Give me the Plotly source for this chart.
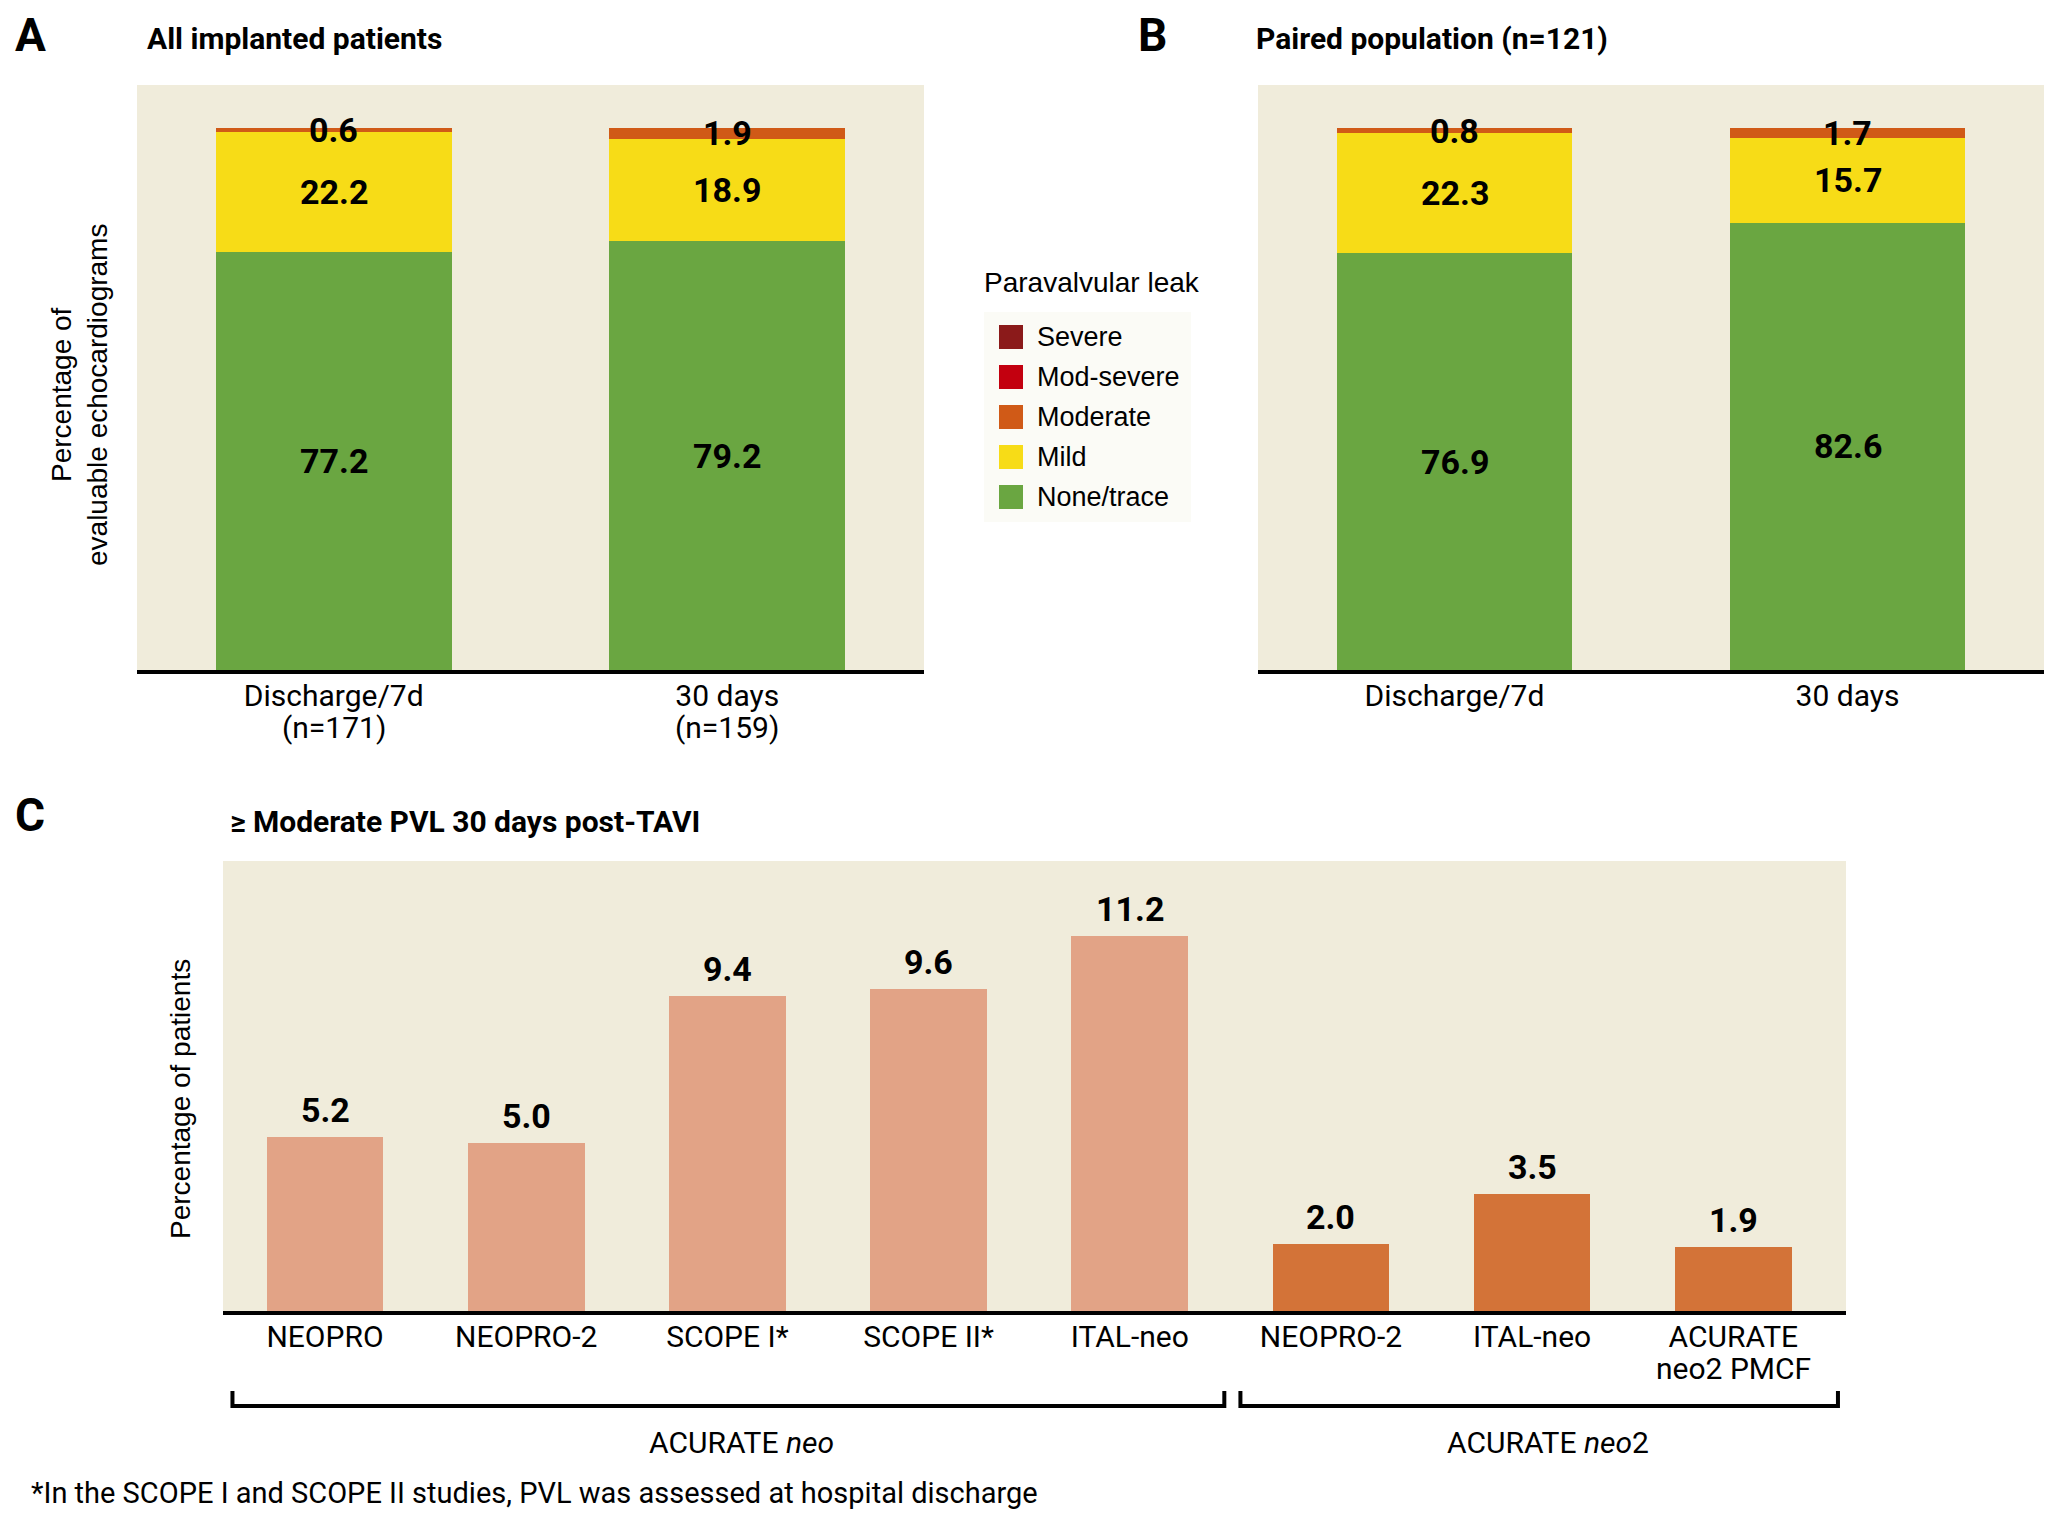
import plotly.graph_objects as go

W, H = 2067, 1519
OFF = 8  # page body margin of the html page

# ---------------- data ----------------
ab_x = [0, 1]
ticks_a = ["Discharge/7d", "30 days"]
ticks_a_n = ["(n=171)", "(n=159)"]
ticks_b = ["Discharge/7d", "30 days"]

grades = ["None/trace", "Mild", "Moderate", "Mod-severe", "Severe"]
grade_colors = ["#6aa641", "#f7dc17", "#d05a17", "#c3000f", "#8b1a1a"]

a_none = [77.2, 79.2]
a_mild = [22.2, 18.9]
a_moderate = [0.6, 1.9]
a_modsevere = [0.0, 0.0]
a_severe = [0.0, 0.0]

b_none = [76.9, 82.6]
b_mild = [22.3, 15.7]
b_moderate = [0.8, 1.7]
b_modsevere = [0.0, 0.0]
b_severe = [0.0, 0.0]

c_studies = ["NEOPRO", "NEOPRO-2", "SCOPE I*", "SCOPE II*", "ITAL-neo",
             "NEOPRO-2", "ITAL-neo", "ACURATE"]
c_studies_line2 = ["", "", "", "", "", "", "", "neo2 PMCF"]
c_values = [5.2, 5.0, 9.4, 9.6, 11.2, 2.0, 3.5, 1.9]
c_device = ["neo", "neo", "neo", "neo", "neo", "neo2", "neo2", "neo2"]
device_colors = {"neo": "#e2a386", "neo2": "#d37338"}
c_x = list(range(len(c_studies)))

# ---------------- styles ----------------
COND = "Roboto, Liberation Sans, sans-serif"
REG = "Liberation Sans, Arial, Helvetica, sans-serif"
BG = "#f0ecdb"


def px(x):
    return (x - OFF) / W


def py(y):
    return 1 - (y - OFF) / H


def ann(x, y, text, font, xanchor="center", yanchor="middle", **kw):
    d = dict(x=x, y=y, text=text, showarrow=False, font=font,
             xanchor=xanchor, yanchor=yanchor)
    d.update(kw)
    return d


fig = go.Figure()

a_series = [a_none, a_mild, a_moderate, a_modsevere, a_severe]
b_series = [b_none, b_mild, b_moderate, b_modsevere, b_severe]

for name, col, vals in zip(grades, grade_colors, a_series):
    fig.add_trace(go.Bar(x=ab_x, y=vals, name=name, marker_color=col,
                         marker_line_width=0, width=0.6,
                         xaxis="x", yaxis="y", showlegend=False,
                         hoverinfo="y+name"))
for name, col, vals in zip(grades, grade_colors, b_series):
    fig.add_trace(go.Bar(x=ab_x, y=vals, name=name, marker_color=col,
                         marker_line_width=0, width=0.6,
                         xaxis="x2", yaxis="y2", showlegend=False,
                         hoverinfo="y+name"))

fig.add_trace(go.Bar(x=c_x, y=c_values, width=0.58,
                     marker_color=[device_colors[d] for d in c_device],
                     marker_line_width=0, xaxis="x3", yaxis="y3",
                     showlegend=False, hoverinfo="y"))

numfont = dict(family=COND, size=34, color="black", weight="bold")
annotations = []

# segment labels A / B
for xa, ya, series in (("x", "y", a_series), ("x2", "y2", b_series)):
    for i in range(len(ab_x)):
        base = 0.0
        for vals in series[:3]:
            v = vals[i]
            annotations.append(ann(ab_x[i], base + v / 2, f"{v:.1f}", numfont,
                                   xref=xa, yref=ya))
            base += v

# value labels C
for xi, v in zip(c_x, c_values):
    annotations.append(ann(xi, v, f"{v:.1f}", numfont, yanchor="bottom",
                           xref="x3", yref="y3", yshift=5))

# second lines of tick labels
tickfont = dict(family=COND, size=30, color="black")
for xi, t in zip(ab_x, ticks_a_n):
    annotations.append(ann(xi, py(728), t, tickfont, xref="x", yref="paper"))
for xi, t in zip(c_x, c_studies_line2):
    if t:
        annotations.append(ann(xi, py(1368), t, tickfont, xref="x3",
                               yref="paper"))

# panel letters and titles
for letter, x, y in (("A", 30, 35), ("B", 1152, 35), ("C", 30, 815)):
    annotations.append(ann(px(x), py(y), letter,
                           dict(family=COND, size=46, color="black",
                                weight="bold"),
                           xref="paper", yref="paper"))
for title, x, y in (("All implanted patients", 145, 38),
                    ("Paired population (n=121)", 1254, 38),
                    ("≥ Moderate PVL 30 days post-TAVI", 228, 821)):
    annotations.append(ann(px(x), py(y), title,
                           dict(family=COND, size=30, color="black",
                                weight="bold"),
                           xanchor="left", xref="paper", yref="paper"))

# y axis titles
annotations.append(ann(px(79), py(395),
                       "Percentage of<br>evaluable echocardiograms",
                       dict(family=REG, size=28, color="black"),
                       textangle=-90, xref="paper", yref="paper"))
annotations.append(ann(px(180), py(1099), "Percentage of patients",
                       dict(family=REG, size=28, color="black"),
                       textangle=-90, xref="paper", yref="paper"))

# legend (manual)
shapes = []
shapes.append(dict(type="rect", xref="paper", yref="paper",
                   x0=px(984), x1=px(1191), y0=py(522), y1=py(312),
                   fillcolor="#fbfbf6", line_width=0, layer="below"))
annotations.append(ann(px(982), py(282), "Paravalvular leak",
                       dict(family=REG, size=28, color="black"),
                       xanchor="left", xref="paper", yref="paper"))
legend_order = ["Severe", "Mod-severe", "Moderate", "Mild", "None/trace"]
for k, name in enumerate(legend_order):
    yc = 337 + k * 40
    col = grade_colors[grades.index(name)]
    shapes.append(dict(type="rect", xref="paper", yref="paper",
                       x0=px(999), x1=px(1023), y0=py(yc + 12), y1=py(yc - 12),
                       fillcolor=col, line_width=0))
    annotations.append(ann(px(1035), py(yc), name,
                           dict(family=REG, size=27, color="black"),
                           xanchor="left", xref="paper", yref="paper"))

# brackets for panel C
brackets = [(-0.46, 4.47, "ACURATE <i>neo</i>", 2.07),
            (4.55, 7.52, "ACURATE <i>neo</i>2", 6.08)]
yb, yt = py(1406), py(1391)
for x0, x1, label, xl in brackets:
    shapes.append(dict(type="path", xref="x3", yref="paper",
                       path=f"M {x0},{yt} L {x0},{yb} L {x1},{yb} L {x1},{yt}",
                       line=dict(color="black", width=4)))
    annotations.append(ann(xl, py(1442), label,
                           dict(family=COND, size=30, color="black"),
                           xref="x3", yref="paper"))

annotations.append(ann(px(29), py(1493),
                       "*In the SCOPE I and SCOPE II studies, PVL was assessed at hospital discharge",
                       dict(family=COND, size=29, color="black"),
                       xanchor="left", xref="paper", yref="paper"))

xcommon = dict(showline=True, linecolor="black", linewidth=4, showgrid=False,
               zeroline=False, ticks="", tickfont=tickfont,
               ticklabelstandoff=-4, fixedrange=True)
ycommon = dict(showline=False, showgrid=False, zeroline=False,
               showticklabels=False, fixedrange=True)

fig.update_layout(
    width=W, height=H, margin=dict(l=0, r=0, t=0, b=0),
    paper_bgcolor="white", plot_bgcolor=BG, barmode="stack",
    showlegend=False,
    xaxis=dict(domain=[px(137), px(924)], range=[-0.5, 1.5],
               tickvals=ab_x, ticktext=ticks_a, anchor="y", **xcommon),
    yaxis=dict(domain=[py(670), py(85)], range=[0, 108], anchor="x",
               **ycommon),
    xaxis2=dict(domain=[px(1258), px(2044)], range=[-0.5, 1.5],
                tickvals=ab_x, ticktext=ticks_b, anchor="y2", **xcommon),
    yaxis2=dict(domain=[py(670), py(85)], range=[0, 108], anchor="x2",
                **ycommon),
    xaxis3=dict(domain=[px(223), px(1846)], range=[-0.507, 7.56],
                tickvals=c_x, ticktext=c_studies, anchor="y3", **xcommon),
    yaxis3=dict(domain=[py(1311), py(861)], range=[0, 13.43], anchor="x3",
                **ycommon),
    annotations=annotations, shapes=shapes,
)

fig.write_html("out.html")
